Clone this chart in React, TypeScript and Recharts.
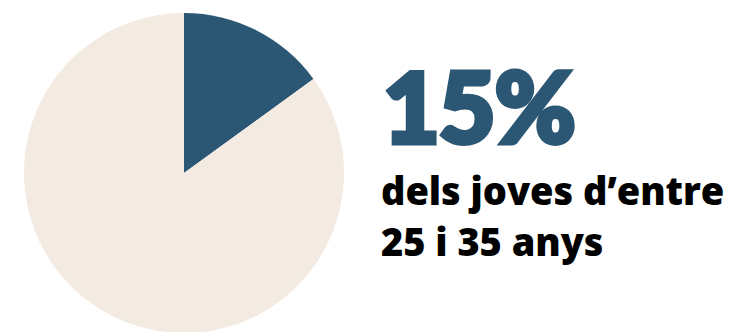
import { PieChart, Pie, Cell } from 'recharts'

const slices = ['joves', 'resta']
const values = [15, 85]
const colors = ['#2b5674', '#f3eae1']
const headline = '15%'
const captionLines = ['dels joves d\u2019entre', '25 i 35 anys']

const data = slices.map((name, i) => ({ name, value: values[i] }))

export default function App() {
  return (
    <div style={{ position: 'absolute', left: 0, top: 0, width: 740, height: 332, background: '#fff', overflow: 'hidden' }}>
      <PieChart width={370} height={332} margin={{ top: 0, right: 0, bottom: 0, left: 0 }}>
        <Pie
          data={data}
          dataKey="value"
          cx={184}
          cy={173}
          outerRadius={160}
          startAngle={90}
          endAngle={-270}
          stroke="none"
          isAnimationActive={false}
        >
          {data.map((d, i) => (
            <Cell key={d.name} fill={colors[i]} />
          ))}
        </Pie>
      </PieChart>
      <div
        style={{
          position: 'absolute',
          left: 383,
          top: 50,
          fontFamily: 'Lato, sans-serif',
          fontWeight: 900,
          fontSize: 98,
          lineHeight: '110px',
          color: colors[0],
          letterSpacing: -1,
          WebkitTextStroke: `5px ${colors[0]}`,
        }}
      >
        {headline}
      </div>
      <div
        style={{
          position: 'absolute',
          left: 381,
          top: 165,
          fontFamily: '"Open Sans", sans-serif',
          fontWeight: 800,
          fontSize: 38,
          lineHeight: '51px',
          color: '#000',
          letterSpacing: -0.05,
          whiteSpace: 'nowrap',
        }}
      >
        {captionLines.map(l => (
          <div key={l}>{l}</div>
        ))}
      </div>
    </div>
  )
}
